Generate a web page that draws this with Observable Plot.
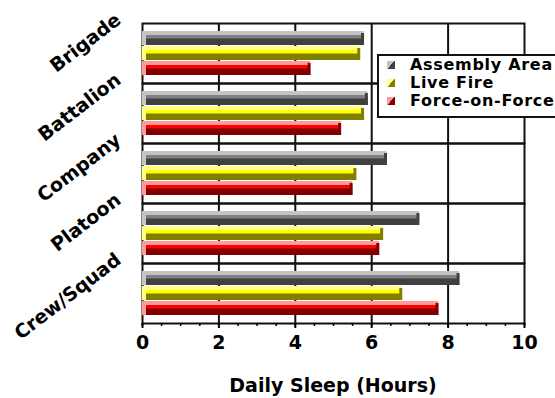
<!DOCTYPE html>
<html><head><meta charset="utf-8">
<script src="https://cdn.jsdelivr.net/npm/d3@7"></script>
<script src="https://cdn.jsdelivr.net/npm/@observablehq/plot@0.6"></script>
<style>
html,body{margin:0;padding:0;background:#fff;}
#wrap{position:relative;width:555px;height:398px;overflow:hidden;font-family:"DejaVu Sans",sans-serif;}
#wrap svg{display:block;}
#caption{margin-top:16px;padding-left:142px;width:382px;text-align:center;font-weight:bold;font-size:19px;line-height:22px;color:#000;}
#legend{position:absolute;left:377px;top:54px;width:200px;height:60px;border:2px solid #111;background:#fff;}
.row{height:18px;line-height:18px;position:relative;padding-left:31px;font-weight:bold;font-size:16px;letter-spacing:0.7px;color:#000;white-space:nowrap;}
.sw{position:absolute;left:8px;top:5px;width:8px;height:8px;}
</style></head><body>
<div id="wrap"></div>
<script>
// ---- data ----
const units = ["Brigade", "Battalion", "Company", "Platoon", "Crew/Squad"];
const seriesNames = ["Assembly Area", "Live Fire", "Force-on-Force"];
const assemblyArea = [5.8, 5.9, 6.4, 7.25, 8.3];
const liveFire = [5.7, 5.8, 5.6, 6.3, 6.8];
const forceOnForce = [4.4, 5.2, 5.5, 6.2, 7.75];
const xTicks = [0, 2, 4, 6, 8, 10];
const xLabel = "Daily Sleep (Hours)";

// ---- styles ----
const lightColors = ["#c4c4c4", "#ffff88", "#ff9a9a"];
const midColors = ["#808080", "#ffff00", "#ff0000"];
const darkColors = ["#404040", "#808000", "#800000"];

const seriesValues = [assemblyArea, liveFire, forceOnForce];
const rows = units.flatMap((u, i) => seriesNames.map((s, j) => ({unit: u, series: s, value: seriesValues[j][i]})));
const si = d => seriesNames.indexOf(d.series);
const minorTicks = d3.range(0, 10.001, 0.5);

const common = {fy: "unit", y: "series", x: "value"};
const plot = Plot.plot({
  width: 555,
  height: 358,
  marginTop: 22,
  marginBottom: 35,
  marginLeft: 142,
  marginRight: 31,
  x: {domain: [0, 10]},
  y: {domain: seriesNames, paddingInner: 0, paddingOuter: 0.5, axis: null},
  fy: {domain: units, padding: 0, axis: null},
  color: {type: "identity"},
  style: {fontFamily: "DejaVu Sans", fontWeight: "bold", fontSize: "19px", color: "#000", background: "transparent", overflow: "visible"},
  marks: [
    Plot.gridX(xTicks.slice(1, -1), {stroke: "#111", strokeOpacity: 1, strokeWidth: 2}),
    Plot.frame({stroke: "#111", strokeWidth: 2}),
    Plot.barX(rows, {...common, fill: d => lightColors[si(d)], insetBottom: 1}),
    Plot.barX(rows, {...common, fill: d => midColors[si(d)], insetTop: 4, insetLeft: 4, insetBottom: 1}),
    Plot.barX(rows, {...common, fill: d => darkColors[si(d)], insetTop: 7.5, insetLeft: 4, insetBottom: 1}),
    Plot.tickX(rows, {...common, stroke: d => darkColors[si(d)], strokeWidth: 3, dx: -1.5, insetTop: 2, insetBottom: 1}),
    Plot.axisX({ticks: minorTicks, tickSize: 3, tickFormat: () => "", label: null, strokeWidth: 1.5}),
    Plot.axisX({ticks: xTicks, tickSize: 5, tickPadding: 7, label: null, strokeWidth: 2, fontSize: 19, fontWeight: "bold"}),
    Plot.axisFy({anchor: "left", tickSize: 0, tickPadding: 24, tickRotate: -37.5, dy: -36, label: null, fontSize: 19, fontWeight: "bold"})
  ]
});
const wrap = document.getElementById("wrap");
wrap.appendChild(plot);

const cap = document.createElement("div");
cap.id = "caption";
cap.textContent = xLabel;
wrap.appendChild(cap);

const legend = document.createElement("div");
legend.id = "legend";
seriesNames.forEach((s, j) => {
  const r = document.createElement("div");
  r.className = "row";
  const sw = document.createElement("span");
  sw.className = "sw";
  sw.style.background = `linear-gradient(135deg, ${lightColors[j]} 50%, ${darkColors[j]} 50%)`;
  r.appendChild(sw);
  r.appendChild(document.createTextNode(s));
  legend.appendChild(r);
});
wrap.appendChild(legend);
</script>
</body></html>
